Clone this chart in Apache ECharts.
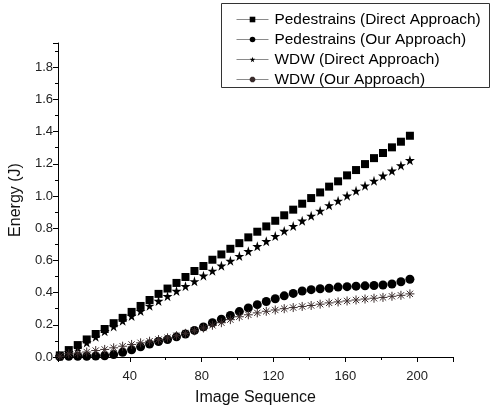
<!DOCTYPE html>
<html>
<head>
<meta charset="utf-8">
<script src="https://cdn.jsdelivr.net/npm/echarts@6/dist/echarts.min.js"></script>
<style>
  html, body { margin: 0; padding: 0; background: #fff; }
  #chart { width: 491px; height: 411px; }
</style>
</head>
<body>
<div id="chart"></div>
<script>
// Image sequence index of every sample (1, 6, 11, ... 196)
const imageSequence = [1, 6, 11, 16, 21, 26, 31, 36, 41, 46, 51, 56, 61, 66, 71, 76, 81, 86, 91, 96,
  101, 106, 111, 116, 121, 126, 131, 136, 141, 146, 151, 156, 161, 166, 171, 176, 181, 186, 191, 196];

// Energy in joules for each sample
const pedDirect = [0.010, 0.043, 0.074, 0.109, 0.143, 0.174, 0.210, 0.243, 0.280, 0.317,
  0.354, 0.392, 0.425, 0.460, 0.497, 0.534, 0.565, 0.604, 0.637, 0.672,
  0.707, 0.743, 0.778, 0.811, 0.846, 0.880, 0.915, 0.952, 0.987, 1.022,
  1.058, 1.091, 1.128, 1.161, 1.198, 1.235, 1.267, 1.302, 1.337, 1.374];
const pedOurs = [0.003, 0.004, 0.005, 0.005, 0.006, 0.008, 0.015, 0.029, 0.045, 0.063,
  0.080, 0.096, 0.108, 0.125, 0.143, 0.165, 0.187, 0.213, 0.235, 0.258,
  0.282, 0.305, 0.325, 0.345, 0.362, 0.380, 0.395, 0.410, 0.418, 0.424,
  0.427, 0.434, 0.437, 0.440, 0.442, 0.444, 0.447, 0.453, 0.467, 0.483];
const wdwDirect = [0.005, 0.030, 0.057, 0.090, 0.125, 0.160, 0.190, 0.225, 0.255, 0.285,
  0.318, 0.348, 0.378, 0.410, 0.440, 0.470, 0.505, 0.535, 0.567, 0.597,
  0.627, 0.657, 0.688, 0.719, 0.751, 0.783, 0.813, 0.846, 0.877, 0.908,
  0.942, 0.970, 1.002, 1.032, 1.064, 1.094, 1.126, 1.157, 1.190, 1.222];
const wdwOurs = [0.005, 0.020, 0.024, 0.031, 0.040, 0.047, 0.057, 0.067, 0.078, 0.088,
  0.098, 0.108, 0.119, 0.132, 0.147, 0.163, 0.180, 0.197, 0.213, 0.232,
  0.250, 0.262, 0.274, 0.284, 0.292, 0.300, 0.307, 0.314, 0.320, 0.328,
  0.336, 0.342, 0.348, 0.354, 0.360, 0.365, 0.370, 0.377, 0.383, 0.392];

const seriesNames = [
  'Pedestrains (Direct Approach)',
  'Pedestrains (Our Approach)',
  'WDW (Direct Approach)',
  'WDW (Our Approach)'
];

const STAR = 'path://M50,0 L61,35 L98,35 L68,57 L79,91 L50,70 L21,91 L32,57 L2,35 L39,35 Z';
const ASTERISK = 'path://M50,0 L50,100 M0,50 L100,50 M15,15 L85,85 M15,85 L85,15';
const FONT = 'Liberation Sans, Arial, sans-serif';

function pairs(values) {
  return imageSequence.map((x, i) => [x, values[i]]);
}

function makeSeries(name, values, symbol, size, color, extraStyle) {
  return {
    name: name,
    type: 'line',
    data: pairs(values),
    symbol: symbol,
    symbolSize: size,
    showAllSymbol: true,
    lineStyle: { width: 0, opacity: 0 },
    itemStyle: Object.assign({ color: color, opacity: 1 }, extraStyle || {}),
    emphasis: { disabled: true },
    z: 3
  };
}

const chart = echarts.init(document.getElementById('chart'), null, { renderer: 'canvas' });

chart.setOption({
  animation: false,
  backgroundColor: '#ffffff',
  grid: { left: 58, right: 38, top: 43, bottom: 50 },
  graphic: [{
    type: 'rect',
    shape: { x: 221.5, y: 3.5, width: 268, height: 84 },
    style: { fill: 'none', stroke: '#333', lineWidth: 1 },
    z: 10
  }],
  legend: {
    orient: 'vertical',
    left: 222,
    top: 9,
    padding: [3, 5, 3, 14],
    itemWidth: 32,
    itemHeight: 7,
    itemGap: 5,
    textStyle: { fontFamily: FONT, fontSize: 15.4, color: '#000', padding: [0, 0, 0, 1] },
    lineStyle: { width: 1, color: '#8a8a8a', opacity: 1 },
    data: seriesNames,
    selectedMode: false
  },
  xAxis: {
    type: 'value',
    min: 0,
    max: 220,
    interval: 40,
    name: 'Image Sequence',
    nameLocation: 'middle',
    nameGap: 33,
    nameTextStyle: { fontFamily: FONT, fontSize: 16, color: '#111' },
    axisLine: { show: true, lineStyle: { color: '#000', width: 1 } },
    axisTick: { show: true, length: 5, lineStyle: { color: '#000' } },
    minorTick: { show: true, splitNumber: 2, length: 3, lineStyle: { color: '#000' } },
    axisLabel: {
      fontFamily: FONT, fontSize: 13, color: '#222', margin: 13,
      showMinLabel: false, showMaxLabel: false
    },
    splitLine: { show: false }
  },
  yAxis: {
    type: 'value',
    min: 0,
    max: 1.95,
    interval: 0.2,
    name: 'Energy (J)',
    nameLocation: 'middle',
    nameGap: 32,
    nameRotate: 90,
    nameTextStyle: { fontFamily: FONT, fontSize: 16, color: '#111' },
    axisLine: { show: true, lineStyle: { color: '#000', width: 1 } },
    axisTick: { show: true, length: 5, lineStyle: { color: '#000' } },
    minorTick: { show: true, splitNumber: 2, length: 3, lineStyle: { color: '#000' } },
    axisLabel: {
      fontFamily: FONT, fontSize: 13, color: '#222', margin: 5,
      showMaxLabel: false,
      formatter: v => v.toFixed(1)
    },
    splitLine: { show: false }
  },
  series: [
    makeSeries(seriesNames[0], pedDirect, 'rect', 8, '#000'),
    makeSeries(seriesNames[1], pedOurs, 'circle', 9, '#000'),
    makeSeries(seriesNames[2], wdwDirect, STAR, 10, '#000'),
    makeSeries(seriesNames[3], wdwOurs, ASTERISK, 9, '#3a2c2c',
      { borderColor: '#3a2c2c', borderWidth: 1 })
  ]
});
</script>
</body>
</html>
